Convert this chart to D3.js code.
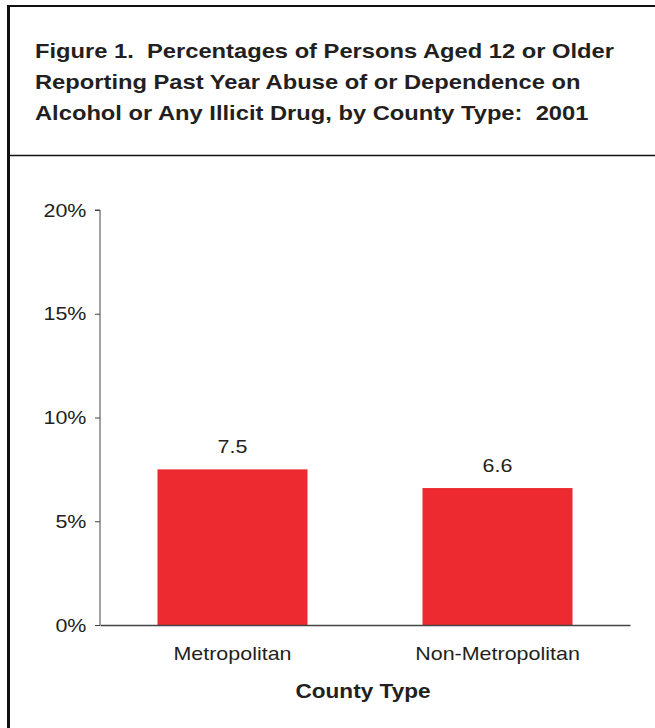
<html>
<head>
    <style>
        body {
            margin: 0;
            background: white;
        }

        text {
            font-family: 'Liberation Sans', Arial, sans-serif;
            fill: #231f20;
            white-space: pre;
        }

        .title {
            font-weight: bold;
            font-size: 21px;
        }

        .axis text {
            font-size: 19px;
            fill: #231f20;
        }

        .axis path,
        .axis line {
            stroke: #444;
        }
    </style>
</head>
<body>
    <svg width="655" height="728"></svg>
    <script src="https://d3js.org/d3.v7.min.js"></script>
    <script>
        var titleLines = [
            'Figure 1.  Percentages of Persons Aged 12 or Older',
            'Reporting Past Year Abuse of or Dependence on',
            'Alcohol or Any Illicit Drug, by County Type:  2001'
        ];
        var categories = ['Metropolitan', 'Non-Metropolitan'];
        var values = [7.5, 6.6];
        var yTicks = [0, 5, 10, 15, 20];
        var xTitle = 'County Type';

        var svg = d3.select('svg');
        var plotLeft = 100, plotRight = 630, plotTop = 210, plotBottom = 625;
        var sx = 1.13; // the source font is a bit wider than Liberation Sans

        // frame round the figure
        svg.append('line').attr('x1', 8.5).attr('x2', 8.5).attr('y1', 5).attr('y2', 728)
            .attr('stroke', '#111').attr('stroke-width', 3);
        svg.append('line').attr('x1', 7).attr('x2', 655).attr('y1', 6).attr('y2', 6)
            .attr('stroke', '#111').attr('stroke-width', 2);
        svg.append('line').attr('x1', 7).attr('x2', 655).attr('y1', 155.5).attr('y2', 155.5)
            .attr('stroke', '#111').attr('stroke-width', 1.5);

        svg.append('g')
            .attr('transform', 'translate(35,0) scale(' + sx + ',1)')
            .selectAll('text')
            .data(titleLines)
            .enter()
            .append('text')
            .attr('class', 'title')
            .attr('y', function (d, i) { return 58 + i * 31 })
            .text(function (d) { return d });

        var x = d3.scaleBand().domain(categories).range([plotLeft, plotRight]);
        var y = d3.scaleLinear().domain([0, 20]).range([plotBottom, plotTop]);
        var barW = 150;

        svg.append('g')
            .selectAll('rect')
            .data(values)
            .enter()
            .append('rect')
            .attr('x', function (d, i) { return x(categories[i]) + x.bandwidth() / 2 - barW / 2 })
            .attr('y', function (d) { return y(d) })
            .attr('width', barW)
            .attr('height', function (d) { return y(0) - y(d) })
            .attr('fill', '#ec2a2f');

        svg.append('g')
            .selectAll('text')
            .data(values)
            .enter()
            .append('text')
            .attr('transform', function (d, i) {
                return 'translate(' + (x(categories[i]) + x.bandwidth() / 2) + ',' + (y(d) - 16) + ') scale(' + sx + ',1)';
            })
            .attr('text-anchor', 'middle')
            .style('font-size', '19px')
            .text(function (d) { return d.toFixed(1) });

        var yAxis = d3.axisLeft(y)
            .tickValues(yTicks)
            .tickSize(5)
            .tickPadding(7)
            .tickFormat(function (d) { return d + '%' });
        svg.append('g')
            .attr('class', 'axis')
            .attr('transform', 'translate(' + plotLeft + ',0)')
            .call(yAxis)
            .call(function (g) {
                g.select('.domain').attr('d', 'M-5,' + plotTop + 'H0V' + plotBottom);
                g.selectAll('.tick text').attr('transform', 'scale(' + sx + ',1)');
            });

        var xAxis = d3.axisBottom(x).tickSize(0).tickPadding(22);
        svg.append('g')
            .attr('class', 'axis')
            .attr('transform', 'translate(0,' + plotBottom + ')')
            .call(xAxis)
            .call(function (g) {
                g.select('.domain').attr('stroke', '#222').attr('stroke-width', 1.5);
                g.selectAll('.tick text').attr('transform', 'scale(' + sx + ',1)');
            });

        svg.append('text')
            .attr('transform', 'translate(363,698) scale(' + sx + ',1)')
            .attr('text-anchor', 'middle')
            .style('font-weight', 'bold')
            .style('font-size', '20px')
            .text(xTitle);
    </script>
</body>
</html>
